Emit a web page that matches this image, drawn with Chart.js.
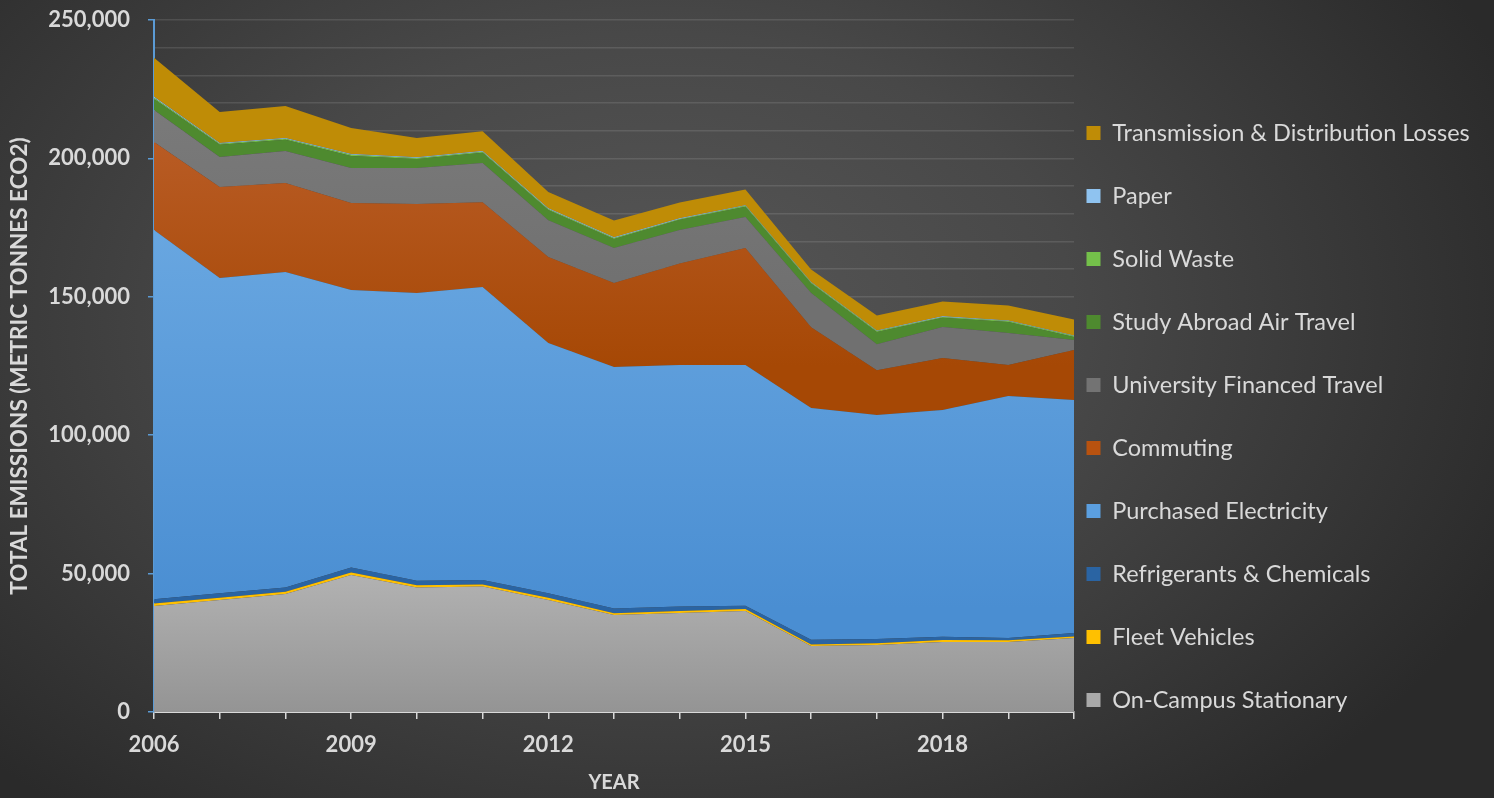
<!DOCTYPE html>
<html>
<head>
<meta charset="utf-8">
<script src="https://cdn.jsdelivr.net/npm/chart.js@4"></script>
<style>
  html, body { margin: 0; padding: 0; }
  body {
    width: 1494px; height: 798px; overflow: hidden;
    background: radial-gradient(ellipse 62% 80% at 44% 40%, #575757 0%, #484848 45%, #2a2a2a 100%);
  }
  #wrap { position: relative; width: 1494px; height: 798px; }
</style>
</head>
<body>
<div id="wrap"><canvas id="chart"></canvas></div>
<script>
const years = ['2006', '2007', '2008', '2009', '2010', '2011', '2012', '2013', '2014', '2015', '2016', '2017', '2018', '2019', '2020'];

// tonnes eCO2, bottom layer first
const onCampus     = [38300, 40500, 42600, 49500, 45000, 45300, 40500, 35000, 35800, 36500, 23800, 24200, 25300, 25300, 26700];
const fleet        = [900, 800, 800, 900, 800, 800, 800, 700, 700, 700, 600, 600, 700, 600, 600];
const refrigerants = [1500, 1600, 1600, 1800, 1600, 1600, 1600, 1700, 1600, 1200, 1700, 1600, 1200, 800, 1200];
const electricity  = [133400, 113900, 114000, 100300, 104000, 105800, 90400, 87200, 87300, 87000, 83700, 80900, 81900, 87500, 84200];
const commuting    = [31800, 32900, 32100, 31400, 32100, 30700, 31100, 30400, 36600, 42200, 29200, 16200, 18800, 11200, 18100];
const uniTravel    = [11600, 10800, 11600, 12600, 13000, 14100, 13300, 12600, 12100, 11200, 12400, 9400, 11200, 11500, 3600];
const studyAbroad  = [4000, 4400, 4000, 4400, 3300, 3700, 3700, 3300, 3700, 3700, 3400, 4400, 3300, 4000, 1100];
const solidWaste   = [450, 400, 400, 380, 380, 380, 360, 350, 350, 350, 330, 320, 320, 320, 300];
const paper        = [300, 300, 300, 280, 280, 270, 260, 250, 250, 240, 230, 220, 220, 210, 200];
const tdLosses     = [14100, 11200, 11500, 9400, 6900, 7200, 5800, 6100, 5700, 5700, 4500, 5400, 5400, 5400, 5800];

const seriesNames = ['On-Campus Stationary', 'Fleet Vehicles', 'Refrigerants & Chemicals', 'Purchased Electricity',
  'Commuting', 'University Financed Travel', 'Study Abroad Air Travel', 'Solid Waste', 'Paper', 'Transmission & Distribution Losses'];
const seriesData = [onCampus, fleet, refrigerants, electricity, commuting, uniTravel, studyAbroad, solidWaste, paper, tdLosses];

const legendColors = ['#a9a9a9', '#ffc000', '#2a64a3', '#5b9fe0', '#b8520f', '#737373', '#4e8a2f', '#74c04a', '#8fc3f0', '#bf8c06'];
// vertical gradient stops (fraction of plot height, colour) for the big layers
const gradients = {
  0: [[0.8, '#b2b2b2'], [1, '#949494']],
  3: [[0.2, '#6eabe3'], [0.85, '#4a8ed2']],
  4: [[0.15, '#ba5d27'], [0.5, '#a64805']],
  5: [[0.1, '#7b7b7b'], [0.4, '#707070']]
};

function fillFor(i) {
  return (ctx) => {
    const area = ctx.chart.chartArea;
    if (!gradients[i] || !area) return legendColors[i];
    const g = ctx.chart.ctx.createLinearGradient(0, area.top, 0, area.bottom);
    gradients[i].forEach(([stop, col]) => g.addColorStop(stop, col));
    return g;
  };
}

const datasets = seriesData.map((d, i) => ({
  label: seriesNames[i],
  data: d,
  backgroundColor: fillFor(i),
  borderWidth: 0,
  pointRadius: 0,
  pointHoverRadius: 0,
  tension: 0,
  fill: i === 0 ? 'origin' : '-1'
}));

// nudge the legend column left/down to sit like the original (keep right edge so text isn't clipped)
const legendShift = {
  id: 'legendShift',
  afterLayout(chart) {
    const lg = chart.legend;
    lg.left -= 27; lg.width += 27;
    lg.top += 17.5; lg.bottom += 17.5;
  }
};

const tickColor = '#d9d9d9';

new Chart(document.getElementById('chart'), {
  type: 'line',
  data: { labels: years, datasets: datasets },
  plugins: [legendShift],
  options: {
    responsive: true,
    maintainAspectRatio: false,
    animation: false,
    layout: { padding: 0 },
    plugins: {
      tooltip: { enabled: false },
      legend: {
        position: 'right',
        reverse: true,
        maxWidth: 420,
        labels: {
          color: '#d9d9d9',
          font: { family: 'Lato', size: 23.5 },
          boxWidth: 14,
          boxHeight: 14,
          padding: 39.5,
          generateLabels(chart) {
            const items = Chart.defaults.plugins.legend.labels.generateLabels(chart);
            items.forEach(it => { it.fillStyle = legendColors[it.datasetIndex]; it.strokeStyle = 'transparent'; it.lineWidth = 0; });
            return items;
          }
        }
      }
    },
    scales: {
      x: {
        afterFit: s => { s.height = 86; },
        grid: { drawOnChartArea: false, color: tickColor, tickLength: 7, lineWidth: 1.5 },
        border: { color: tickColor, width: 2 },
        ticks: {
          color: tickColor,
          font: { family: 'Lato', size: 22, weight: 'bold' },
          padding: 13,
          autoSkip: false,
          maxRotation: 0,
          callback: function (v, i) { return i % 3 === 0 ? years[i] : ''; }
        },
        title: {
          display: true,
          text: 'YEAR',
          color: tickColor,
          font: { family: 'Lato', size: 20, weight: 'bold' },
          padding: { top: 0, bottom: 3 }
        }
      },
      y: {
        stacked: true,
        min: 0,
        max: 250000,
        afterFit: s => { s.width = 154; s.paddingTop = 20; s.paddingBottom = 0; },
        grid: {
          color: ctx => ctx.tick && ctx.tick.value > 0 ? 'rgba(255,255,255,0.11)' : 'transparent',
          tickColor: ctx => ctx.tick && ctx.tick.value % 50000 === 0 ? '#5b9bd5' : 'transparent',
          tickLength: 6,
          lineWidth: 1.5
        },
        border: { color: '#5b9bd5', width: 2 },
        ticks: {
          stepSize: 10000,
          color: tickColor,
          font: { family: 'Lato', size: 22, weight: 'bold' },
          padding: 18,
          autoSkip: false,
          callback: v => v % 50000 === 0 ? v.toLocaleString('en-US') : ''
        },
        title: {
          display: true,
          text: 'TOTAL EMISSIONS (METRIC TONNES ECO2)',
          color: tickColor,
          font: { family: 'Lato', size: 22.5, weight: 'bold' },
          padding: { top: 6, bottom: 0 }
        }
      }
    }
  }
});
</script>
</body>
</html>
